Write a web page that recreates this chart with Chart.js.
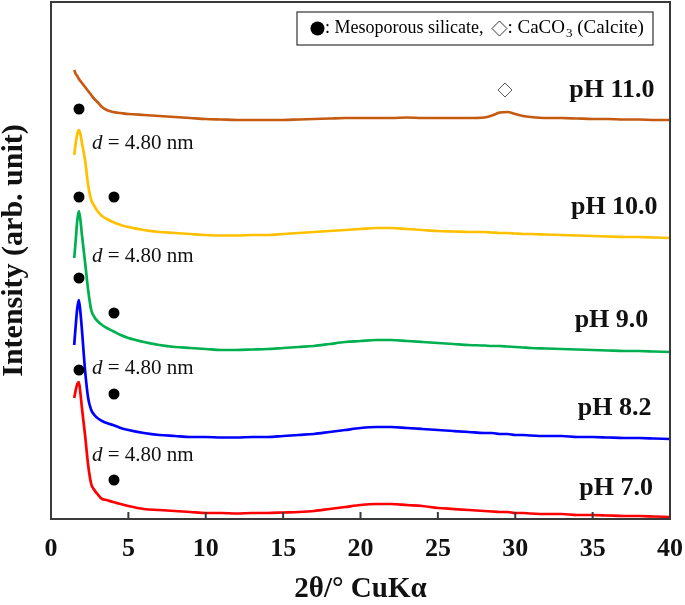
<!DOCTYPE html>
<html>
<head>
<meta charset="utf-8">
<script src="https://cdn.jsdelivr.net/npm/chart.js@4.4.1/dist/chart.umd.min.js"></script>
<style>
  html, body { margin: 0; padding: 0; background: #fff; }
</style>
</head>
<body>
<canvas id="xrd" width="685" height="605"></canvas>
<script>
// 2theta (deg) sampling shared by all patterns
var twoTheta = [1.5, 1.6, 1.7, 1.8, 1.9, 2.0, 2.2, 2.4, 2.6, 2.8, 3.0, 3.3, 3.6, 4.0, 4.5,
  5, 6, 7, 8, 9, 10, 11, 12, 13, 14, 15, 16, 17, 18, 19, 20, 21, 22, 23, 24, 25, 26, 27, 28,
  28.5, 29, 29.5, 30, 30.5, 31, 32, 33, 34, 35, 36, 37, 38, 39, 40];

// intensities (arb. unit, stacked with offsets as in the figure)
var ph70 = [121, 129, 135, 137, 126, 111, 84, 54, 35, 29, 25, 20, 19, 17, 15,
  13, 10, 9, 8, 7, 6, 6, 5.5, 6, 6, 6.5, 7, 8, 10, 12, 14, 15, 15, 14, 13, 11, 10, 9, 8,
  7.5, 7, 7, 6, 6, 5.5, 5, 5, 4, 4, 3.5, 3, 3, 2.5, 2];
var ph82 = [174, 194, 211, 219, 207, 189, 149, 121, 109, 104, 101, 98, 96, 94, 91,
  89, 86, 84, 83, 82, 82, 81.5, 81.5, 82, 82, 83, 84, 85, 87, 89, 91, 92, 92, 91, 90, 89, 88, 87, 86,
  86, 85, 85, 84, 84, 83.5, 83, 83, 82, 82, 81.5, 81, 81, 80.5, 80];
var ph90 = [261, 279, 299, 308, 299, 284, 257, 229, 209, 202, 198, 194, 191, 188, 184,
  181, 177, 174, 172, 171, 170, 169, 169, 169.5, 170, 171, 172, 173, 175, 177, 178, 179, 179, 178, 177, 176, 175, 174, 173.5,
  173, 173, 172.5, 172, 171.5, 171, 170.5, 170, 169.5, 169, 168.5, 168, 168, 167.5, 167];
var ph100 = [364, 376, 385, 389, 385, 376, 359, 334, 319, 313, 308, 303, 300, 297, 294,
  292, 289, 287, 286, 285, 284, 283.5, 283.5, 284, 284, 285, 286, 287, 288, 289, 290, 291, 291, 290, 289, 288, 287.5, 287, 287,
  286.5, 286, 286, 285.5, 285, 285, 284.5, 284, 283.5, 283, 282.5, 282, 282, 281.5, 281];
var ph110 = [449, 445, 443, 440, 438, 436, 432, 428, 424, 420, 417, 412, 409, 407, 406,
  405, 404, 403, 402, 401, 400, 399.5, 399, 399, 399, 399, 399.5, 400, 400.5, 401, 401, 401, 401, 401.5, 401, 401, 401, 401, 401.5,
  403.5, 406.5, 407, 405, 403, 402, 401, 401, 400.5, 400, 400, 399.5, 399.5, 399, 399];

// peak markers
var silicateX = [1.81, 1.81, 4.07, 1.81, 4.07, 1.81, 4.07, 4.07];
var silicateY = [410, 322, 322, 241, 206, 149, 125, 39];
var calciteX = [29.34];
var calciteY = [429];

var sampleNames = ['pH 7.0', 'pH 8.2', 'pH 9.0', 'pH 10.0', 'pH 11.0'];
var sampleColors = ['#FF0000', '#0000FF', '#00B050', '#FFC000', '#C55A11'];
var patterns = [ph70, ph82, ph90, ph100, ph110];

function pts(xs, ys) {
  return xs.map(function (x, i) { return { x: x, y: ys[i] }; });
}

// text placed in data space
var phLabelPos = [[38.9, 31], [38.8, 111], [38.6, 199], [39.2, 312], [39.0, 429]];
var spacingPos = [[2.65, 64], [2.65, 151], [2.65, 263], [2.65, 376]];

var serif = '"Liberation Serif", "Times New Roman", serif';

var decorations = {
  id: 'decorations',
  afterDatasetsDraw: function (chart) {
    var ctx = chart.ctx, a = chart.chartArea;
    var xs = chart.scales.x, ys = chart.scales.y;
    ctx.save();

    // frame + inward ticks
    ctx.strokeStyle = '#3a3a3a';
    ctx.lineWidth = 2;
    ctx.strokeRect(a.left, a.top, a.right - a.left, a.bottom - a.top);
    ctx.beginPath();
    xs.ticks.forEach(function (t) {
      var px = xs.getPixelForValue(t.value);
      ctx.moveTo(px, a.bottom);
      ctx.lineTo(px, a.bottom - 7);
    });
    ctx.stroke();

    // y axis title, sits a little above the plot centre
    ctx.save();
    ctx.translate(a.left - 37, a.top + (a.bottom - a.top) / 2 - 10);
    ctx.rotate(-Math.PI / 2);
    ctx.fillStyle = '#111';
    ctx.font = 'bold 30px ' + serif;
    ctx.textAlign = 'center';
    ctx.textBaseline = 'middle';
    ctx.fillText('Intensity (arb. unit)', 0, 0);
    ctx.restore();

    // sample labels
    ctx.fillStyle = '#111';
    ctx.font = 'bold 26px ' + serif;
    ctx.textAlign = 'right';
    ctx.textBaseline = 'middle';
    sampleNames.forEach(function (name, i) {
      ctx.fillText(name, xs.getPixelForValue(phLabelPos[i][0]), ys.getPixelForValue(phLabelPos[i][1]));
    });

    // d-spacing labels
    ctx.textAlign = 'left';
    spacingPos.forEach(function (p) {
      var x = xs.getPixelForValue(p[0]), y = ys.getPixelForValue(p[1]);
      ctx.font = 'italic 21px ' + serif;
      ctx.fillText('d', x, y);
      var w = ctx.measureText('d').width;
      ctx.font = '21px ' + serif;
      ctx.fillText(' = 4.80 nm', x + w, y);
    });

    // legend box
    var bx = a.right - 373, by = 12, bw = 356, bh = 33, cy = by + bh / 2;
    ctx.strokeStyle = '#333';
    ctx.lineWidth = 1.2;
    ctx.strokeRect(bx, by, bw, bh);
    ctx.fillStyle = '#000';
    ctx.beginPath();
    ctx.arc(bx + 20.5, cy, 7, 0, Math.PI * 2);
    ctx.fill();
    ctx.font = '18px ' + serif;
    var tx = bx + 28;
    ctx.fillText(': Mesoporous silicate,', tx, cy);
    tx += ctx.measureText(': Mesoporous silicate,').width + 16;
    ctx.strokeStyle = '#333';
    ctx.lineWidth = 1;
    ctx.beginPath();
    ctx.moveTo(tx, cy - 7.5); ctx.lineTo(tx + 7.5, cy); ctx.lineTo(tx, cy + 7.5); ctx.lineTo(tx - 7.5, cy); ctx.closePath();
    ctx.stroke();
    tx += 8;
    ctx.font = '19px ' + serif;
    ctx.fillText(': CaCO', tx, cy);
    tx += ctx.measureText(': CaCO').width + 1;
    ctx.font = '13px ' + serif;
    ctx.fillText('3', tx, cy + 5);
    tx += ctx.measureText('3').width;
    ctx.font = '19px ' + serif;
    ctx.fillText(' (Calcite)', tx, cy);

    ctx.restore();
  }
};

var datasets = [
  {
    type: 'scatter', data: pts(silicateX, silicateY),
    pointStyle: 'circle', pointRadius: 5.5, backgroundColor: '#000', borderColor: '#000', borderWidth: 0
  },
  {
    type: 'scatter', data: pts(calciteX, calciteY),
    pointStyle: 'rectRot', pointRadius: 7, backgroundColor: '#fff', borderColor: '#555', borderWidth: 1
  }
];
patterns.forEach(function (p, i) {
  datasets.push({
    type: 'line', label: sampleNames[i], data: pts(twoTheta, p),
    borderColor: sampleColors[i], borderWidth: 2.7, pointRadius: 0,
    cubicInterpolationMode: 'monotone', fill: false
  });
});

new Chart(document.getElementById('xrd'), {
  data: { datasets: datasets },
  options: {
    responsive: false,
    animation: false,
    layout: { autoPadding: false, padding: { left: 0, right: 15, top: 2, bottom: 0 } },
    plugins: { legend: { display: false }, tooltip: { enabled: false } },
    scales: {
      x: {
        type: 'linear', min: 0, max: 40,
        grid: { display: false, drawTicks: false },
        border: { display: false },
        ticks: { stepSize: 5, padding: 15, color: '#111', font: { family: serif, size: 26, weight: 'bold' } },
        title: { display: true, text: '2θ/° CuKα', color: '#111', padding: { top: 0, bottom: 0 },
          font: { family: serif, size: 29, weight: 'bold', lineHeight: 1.1 } },
        afterFit: function (s) { s.height = 86; s.paddingLeft = 0; s.paddingRight = 0; }
      },
      y: {
        min: 0, max: 517,
        grid: { display: false, drawTicks: false },
        border: { display: false },
        ticks: { display: false },
        title: { display: false },
        afterFit: function (s) { s.width = 51; s.paddingTop = 0; s.paddingBottom = 0; }
      }
    }
  },
  plugins: [decorations]
});
</script>
</body>
</html>
